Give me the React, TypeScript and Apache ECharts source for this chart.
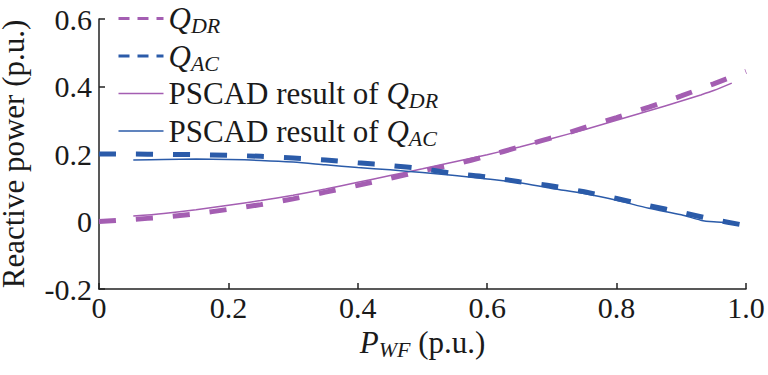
import React, { useEffect, useRef } from "react";
import * as echarts from "echarts";

// ---- data ----
const xModel = [0, 0.05, 0.1, 0.15, 0.2, 0.25, 0.3, 0.35, 0.4, 0.45, 0.5, 0.55, 0.6, 0.65, 0.7, 0.75, 0.8, 0.85, 0.9, 0.95, 1.0];
const qDR = [0, 0.006, 0.013, 0.023, 0.036, 0.05, 0.067, 0.087, 0.107, 0.128, 0.15, 0.17, 0.194, 0.221, 0.248, 0.278, 0.308, 0.339, 0.372, 0.408, 0.445];
const qAC = [0.2, 0.2, 0.199, 0.198, 0.196, 0.193, 0.188, 0.182, 0.174, 0.166, 0.156, 0.142, 0.132, 0.118, 0.105, 0.088, 0.068, 0.047, 0.027, 0.006, -0.012];

const xPscad = [0.053, 0.1, 0.15, 0.2, 0.25, 0.3, 0.35, 0.4, 0.45, 0.5, 0.55, 0.6, 0.65, 0.7, 0.75, 0.8, 0.85, 0.9, 0.93, 0.95, 0.978];
const pscadDR = [0.016, 0.024, 0.035, 0.048, 0.062, 0.078, 0.096, 0.116, 0.136, 0.156, 0.177, 0.198, 0.221, 0.246, 0.272, 0.3, 0.328, 0.357, 0.375, 0.388, 0.41];
const pscadAC = [0.182, 0.184, 0.185, 0.184, 0.181, 0.176, 0.168, 0.16, 0.153, 0.145, 0.136, 0.126, 0.115, 0.098, 0.083, 0.063, 0.039, 0.02, 0.004, -0.001, -0.004];

const seriesNames = ["Q_DR", "Q_AC", "PSCAD result of Q_DR", "PSCAD result of Q_AC"];
const legendLabels: Record<string, string> = {
  "Q_DR": "{i|Q}{s|DR}",
  "Q_AC": "{i|Q}{s|AC}",
  "PSCAD result of Q_DR": "{n|PSCAD result of }{i|Q}{s|DR}",
  "PSCAD result of Q_AC": "{n|PSCAD result of }{i|Q}{s|AC}",
};
const xTitle = "{i|P}{s|WF}{n| (p.u.)}";
const yTitle = "Reactive power (p.u.)";
const xTicks = { min: 0, max: 1, interval: 0.2 };
const yTicks = { min: -0.2, max: 0.6, interval: 0.2 };

const PURPLE = "#a45eb2";
const BLUE = "#2b5ba9";
const FONT = "Liberation Serif";
const INK = "#1a1a1a";

const pair = (xs: number[], ys: number[]) => xs.map((x, i) => [x, ys[i]]);

export default function App() {
  const ref = useRef<HTMLDivElement>(null);
  useEffect(() => {
    if (!ref.current) return;
    const chart = echarts.init(ref.current, undefined, { renderer: "svg" });
    const rich = {
      n: { fontFamily: FONT, fontSize: 31, color: INK },
      i: { fontFamily: FONT, fontSize: 31, fontStyle: "italic", color: INK },
      s: { fontFamily: FONT, fontSize: 22, fontStyle: "italic", color: INK, padding: [14, 0, 0, 0] },
    };
    const axisLabelFmt = (v: number) => (Math.abs(v) < 1e-9 ? "0" : v.toFixed(1));
    const hidden = { opacity: 0 };
    chart.setOption({
      animation: false,
      backgroundColor: "#ffffff",
      textStyle: { fontFamily: FONT, color: INK },
      grid: { left: 99, right: 22, top: 19, bottom: 86, containLabel: false, outerBoundsMode: "none" },
      legend: {
        left: 112,
        top: -2,
        orient: "vertical",
        itemWidth: 45,
        itemHeight: 14,
        itemGap: 4,
        itemStyle: hidden,
        data: [
          { name: seriesNames[0], itemStyle: hidden, lineStyle: { color: PURPLE, width: 3, type: [11, 8] } },
          { name: seriesNames[1], itemStyle: hidden, lineStyle: { color: BLUE, width: 3, type: [11, 8] } },
          { name: seriesNames[2], itemStyle: hidden, lineStyle: { color: PURPLE, width: 1.5, type: "solid" } },
          { name: seriesNames[3], itemStyle: hidden, lineStyle: { color: BLUE, width: 1.5, type: "solid" } },
        ],
        formatter: (name: string) => legendLabels[name] || name,
        textStyle: { fontFamily: FONT, fontSize: 31, color: INK, rich },
      },
      xAxis: {
        type: "value",
        min: xTicks.min,
        max: xTicks.max,
        interval: xTicks.interval,
        name: xTitle,
        nameLocation: "middle",
        nameGap: 35,
        nameTextStyle: { fontFamily: FONT, fontSize: 31, color: INK, rich },
        axisLine: { show: true, onZero: false, lineStyle: { color: "#222", width: 1.5 } },
        axisTick: { show: true, inside: true, length: 6, lineStyle: { color: "#222", width: 1.5 } },
        axisLabel: { fontFamily: FONT, fontSize: 30, color: INK, margin: 3, formatter: axisLabelFmt },
        splitLine: { show: false },
      },
      yAxis: {
        type: "value",
        min: yTicks.min,
        max: yTicks.max,
        interval: yTicks.interval,
        name: yTitle,
        nameLocation: "middle",
        nameGap: 70,
        nameTextStyle: { fontFamily: FONT, fontSize: 31, color: INK },
        axisLine: { show: true, onZero: false, lineStyle: { color: "#222", width: 1.5 } },
        axisTick: { show: true, inside: true, length: 6, lineStyle: { color: "#222", width: 1.5 } },
        axisLabel: { fontFamily: FONT, fontSize: 30, color: INK, margin: 7, formatter: axisLabelFmt },
        splitLine: { show: false },
      },
      series: [
        {
          name: seriesNames[0], type: "line", symbol: "none", smooth: 0.3,
          data: pair(xModel, qDR), z: 3,
          lineStyle: { color: PURPLE, width: 5, type: [17, 20], cap: "butt" },
          itemStyle: { color: PURPLE },
        },
        {
          name: seriesNames[1], type: "line", symbol: "none", smooth: 0.3,
          data: pair(xModel, qAC), z: 3,
          lineStyle: { color: BLUE, width: 5, type: [17, 20], cap: "butt" },
          itemStyle: { color: BLUE },
        },
        {
          name: seriesNames[2], type: "line", symbol: "none", smooth: 0.3,
          data: pair(xPscad, pscadDR), z: 4,
          lineStyle: { color: PURPLE, width: 1.5 },
          itemStyle: { color: PURPLE },
        },
        {
          name: seriesNames[3], type: "line", symbol: "none", smooth: 0.3,
          data: pair(xPscad, pscadAC), z: 4,
          lineStyle: { color: BLUE, width: 1.5 },
          itemStyle: { color: BLUE },
        },
      ],
    });
    return () => chart.dispose();
  }, []);
  return (
    <>
      <style>{"#chart-host svg text, #chart-host svg tspan { font-family: 'Liberation Serif', 'Times New Roman', serif !important; }"}</style>
      <div id="chart-host" ref={ref} style={{ width: 768, height: 375, position: "absolute", left: 0, top: 0 }} />
    </>
  );
}
